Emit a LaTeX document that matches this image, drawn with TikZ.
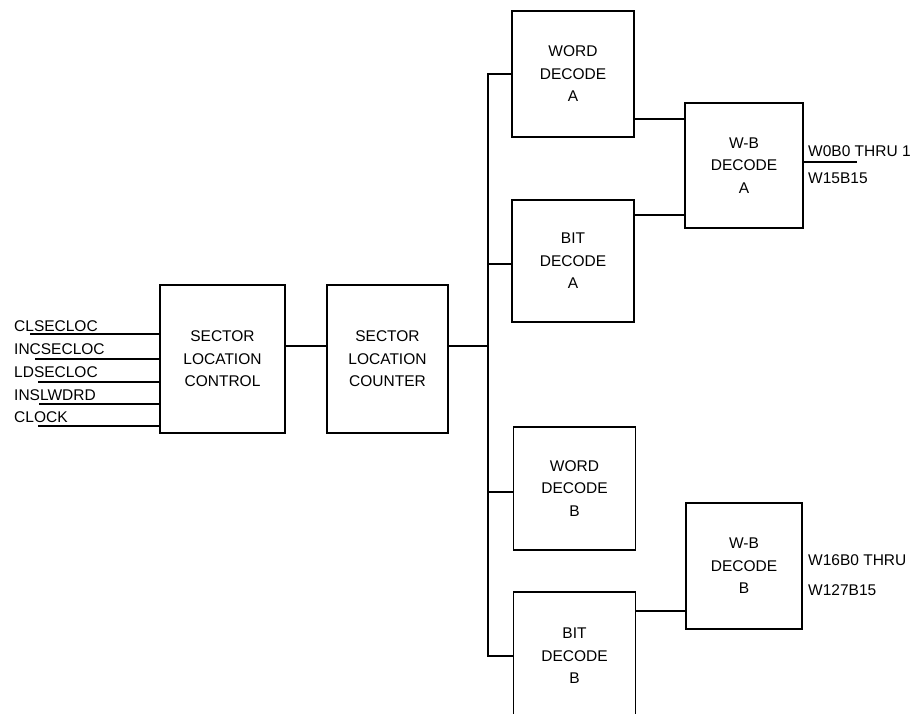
\documentclass[tikz,border=0pt]{standalone}
\usepackage{fontspec}
\setmainfont{Liberation Sans}
\usetikzlibrary{positioning}
\tikzset{
  blockbox/.style={draw=black, line width=1.8pt, minimum width=122pt, minimum height=124pt, align=center, inner sep=0pt, outer sep=0pt, font=\fontsize{15.5}{22.5}\selectfont},
  sig/.style={anchor=base west, inner sep=0pt, font=\fontsize{15.5}{18}\selectfont},
  wire/.style={line width=1.8pt, draw=black}
}

\begin{document}
\begin{tikzpicture}[x=1pt, y=-1pt]
  \useasboundingbox (0,0) rectangle (918,713);
  \clip (0,0) rectangle (918,713);

  \node[blockbox, minimum width=125pt, minimum height=148pt] (ctrl) at (222.5,359) {SECTOR\\LOCATION\\CONTROL};
  \node[blockbox, minimum width=121pt, minimum height=148pt, right=42pt of ctrl] (cnt) {SECTOR\\LOCATION\\COUNTER};

  \node[blockbox, minimum height=126pt] (wordA) at (573,74) {WORD\\DECODE\\A};
  \node[blockbox, minimum height=122pt, below=63pt of wordA] (bitA) {BIT\\DECODE\\A};
  \node[blockbox, minimum height=123pt] (wordB) at (574.5,488.5) {WORD\\DECODE\\B};
  \node[blockbox, minimum height=128pt, below=42pt of wordB] (bitB) {BIT\\DECODE\\B};

  \node[blockbox, minimum width=118pt, minimum height=125pt] (wbA) at (744,165.5) {W-B\\DECODE\\A};
  \node[blockbox, minimum width=116pt, minimum height=126pt] (wbB) at (744,566) {W-B\\DECODE\\B};

  % input signals
  \node[sig] (clsec) at (14,331) {CLSECLOC};
  \node[sig] (incsec) at (14,354) {INCSECLOC};
  \node[sig] (ldsec) at (14,377) {LDSECLOC};
  \node[sig] (inslw) at (14,400) {INSLWDRD};
  \node[sig] (clock) at (14,422) {CLOCK};

  \draw[wire] ([shift={(16pt,-3pt)}]clsec.base west) -- ([yshift=-3pt]clsec.base west -| ctrl.west);
  \draw[wire] ([shift={(21pt,-5pt)}]incsec.base west) -- ([yshift=-5pt]incsec.base west -| ctrl.west);
  \draw[wire] ([shift={(24pt,-5pt)}]ldsec.base west) -- ([yshift=-5pt]ldsec.base west -| ctrl.west);
  \draw[wire] ([shift={(25pt,-4pt)}]inslw.base west) -- ([yshift=-4pt]inslw.base west -| ctrl.west);
  \draw[wire] ([shift={(24pt,-4pt)}]clock.base west) -- ([yshift=-4pt]clock.base west -| ctrl.west);

  % counter and bus
  \draw[wire] ([yshift=13pt]ctrl.east) -- ([yshift=13pt]ctrl.east -| cnt.west);
  \coordinate (bus) at ([xshift=40pt,yshift=13pt]cnt.east);
  \draw[wire] ([yshift=13pt]cnt.east) -- (bus);
  \draw[wire] (wordA.west) -| (bus) |- ([yshift=0pt]bitB.west);
  \draw[wire] ([yshift=-3pt]bitA.west -| bus) -- ([yshift=-3pt]bitA.west);
  \draw[wire] ([yshift=-3.5pt]wordB.west -| bus) -- ([yshift=-3.5pt]wordB.west);

  % to W-B decoders
  \draw[wire] ([yshift=-45pt]wordA.east) -- ([yshift=-45pt]wordA.east -| wbA.west);
  \draw[wire] ([yshift=46pt]bitA.east) -- ([yshift=46pt]bitA.east -| wbA.west);
  \draw[wire] ([yshift=45pt]bitB.east) -- ([yshift=45pt]bitB.east -| wbB.west);

  % outputs
  \coordinate (outA) at ([shift={(54pt,3.5pt)}]wbA.east);
  \draw[wire] ([yshift=3.5pt]wbA.east) -- (outA);
  \node[sig] (outAtop) at (808,156) {W0B0 THRU 1};
  \node[sig] (outAbot) at (808,183) {W15B15};
  \node[sig] (outBtop) at (808,565) {W16B0 THRU};
  \node[sig] (outBbot) at (808,595) {W127B15};
\end{tikzpicture}
\end{document}
